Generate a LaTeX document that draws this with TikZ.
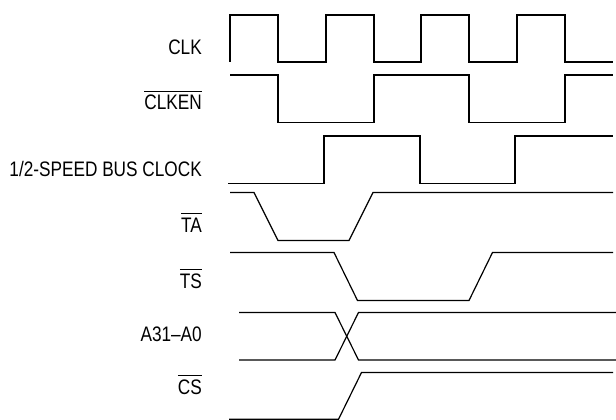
\documentclass[tikz,border=0pt]{standalone}
\usepackage{fontspec}
\setmainfont{Liberation Sans}[FakeStretch=0.82]
\newcommand\barsig[1]{\leavevmode\vbox{\hrule height 0.9pt\kern 3.4pt\hbox{#1}}}
\begin{document}
\begin{tikzpicture}[x=1pt,y=-1pt,
  wave/.style={line width=1.2pt,line join=miter},
  lbl/.style={anchor=base east,inner sep=0pt,font=\fontsize{21}{23}\selectfont}]
\useasboundingbox (0,0) rectangle (616,420);
% labels
\node[lbl] (lclk) at (202,55) {CLK};
\node[lbl] (lclken) at (202,110) {\barsig{CLKEN}};
\node[lbl] (lhalf) at (202,176) {1/2-SPEED BUS CLOCK};
\node[lbl] (lta) at (202,232) {\barsig{TA}};
\node[lbl] (lts) at (202,288) {\barsig{TS}};
\node[lbl] (laddr) at (202,341) {A31--A0};
\node[lbl] (lcs) at (202,394) {\barsig{CS}};
% CLK
\draw[wave] (230,62) -- (230,15) -- (278,15) -- (278,62) -- (326,62) -- (326,15)
  -- (374,15) -- (374,62) -- (421,62) -- (421,15) -- (469,15) -- (469,62)
  -- (517,62) -- (517,15) -- (565,15) -- (565,62) -- (613,62);
% CLKEN
\draw[wave] (230,75) -- (278,75) -- (278,122.5) -- (374,122.5) -- (374,75)
  -- (469,75) -- (469,122.5) -- (565,122.5) -- (565,75) -- (613,75);
% 1/2 speed bus clock
\draw[wave] (228,183.5) -- (324,183.5) -- (324,136) -- (420,136) -- (420,183.5)
  -- (515,183.5) -- (515,136) -- (613,136);
% TA
\draw[wave] (230,192.5) -- (254,192.5) -- (278,240.5) -- (349,240.5) -- (373,192.5) -- (613,192.5);
% TS
\draw[wave] (230,252.5) -- (334,252.5) -- (357.5,300.5) -- (469,300.5) -- (492.5,252.5) -- (613,252.5);
% A31-A0
\draw[wave] (239,312.5) -- (335,312.5) -- (358.5,360) -- (616,360);
\draw[wave] (239,360) -- (335,360) -- (358.5,312.5) -- (616,312.5);
% CS
\draw[wave] (229,419.3) -- (338.5,419.3) -- (361.5,372.5) -- (613,372.5);
\end{tikzpicture}
\end{document}
